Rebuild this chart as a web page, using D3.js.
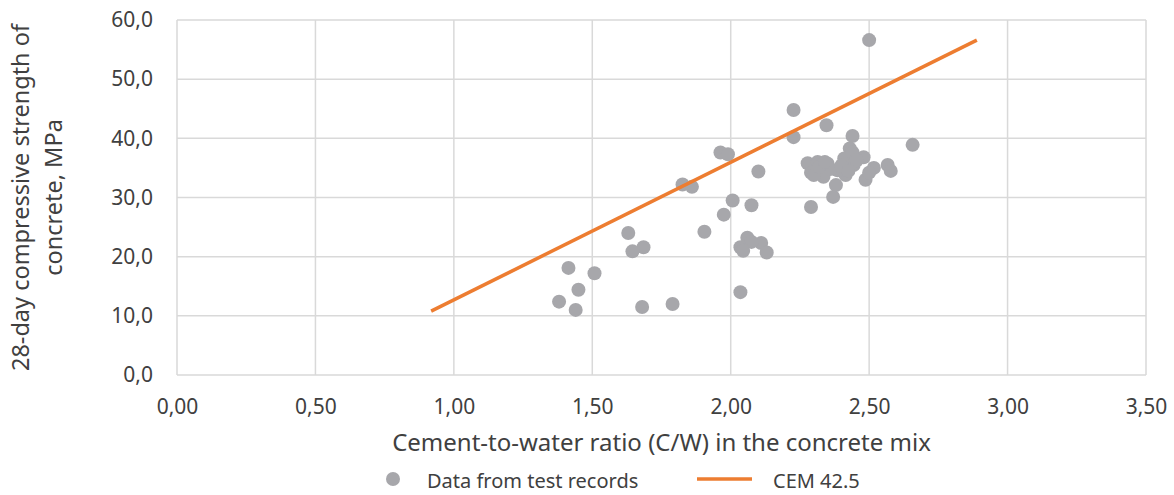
<!DOCTYPE html>
<html>
<head>
<meta charset="utf-8">
<script src="https://cdn.jsdelivr.net/npm/d3@7"></script>
<style>
  body { margin: 0; background: #fff; }
  text { font-family: "Noto Sans", sans-serif; fill: #404040; }
</style>
</head>
<body>
<svg id="chart" width="1174" height="495"></svg>
<script>
// test records: cement-to-water ratio vs 28-day strength
var cwRatio = [2.50, 2.227, 2.346, 2.227, 2.44, 2.657, 2.43, 1.963, 1.99, 2.10,
  1.826, 1.86, 2.007, 2.075, 2.29, 1.975, 1.905, 1.63, 2.06, 2.11,
  2.075, 2.035, 2.045, 2.13, 1.685, 1.645, 1.414, 1.508, 1.45, 1.38,
  1.44, 1.68, 1.79, 2.035, 2.37, 2.567, 2.578, 2.487, 2.48, 2.278,
  2.314, 2.35, 2.29, 2.335, 2.38, 2.415, 2.41, 2.444, 2.386, 2.44,
  2.517, 2.30, 2.36, 2.32, 2.40, 2.455, 2.50, 2.34, 2.425];
var strength = [56.6, 44.8, 42.2, 40.2, 40.4, 38.9, 38.3, 37.6, 37.3, 34.4,
  32.2, 31.8, 29.5, 28.7, 28.4, 27.1, 24.2, 24.0, 23.2, 22.3,
  22.5, 21.6, 21.0, 20.7, 21.6, 20.9, 18.1, 17.2, 14.4, 12.4,
  11.0, 11.5, 12.0, 14.0, 30.1, 35.5, 34.5, 33.0, 36.8, 35.8,
  36.0, 35.7, 34.2, 33.5, 32.1, 33.8, 36.6, 35.5, 34.6, 37.6,
  35.0, 33.8, 34.8, 35.2, 35.4, 36.3, 34.2, 36.0, 34.5];

// CEM 42.5 line end points
var cemX = [0.918, 2.889];
var cemY = [10.8, 56.6];

var xTicks = [0, 0.5, 1, 1.5, 2, 2.5, 3, 3.5];
var yTicks = [0, 10, 20, 30, 40, 50, 60];

var svg = d3.select("#chart");

var x = d3.scaleLinear().domain([0, 3.5]).range([177, 1146]);
var y = d3.scaleLinear().domain([0, 60]).range([375, 20]);

var fmtX = d => d.toFixed(2).replace(".", ",");
var fmtY = d => d.toFixed(1).replace(".", ",");

// gridlines
svg.append("g").selectAll("line").data(yTicks).enter().append("line")
    .attr("x1", x(0)).attr("x2", x(3.5))
    .attr("y1", d => y(d)).attr("y2", d => y(d))
    .style("stroke", "#d9d9d9").style("stroke-width", 1.5);

svg.append("g").selectAll("line").data(xTicks).enter().append("line")
    .attr("x1", d => x(d)).attr("x2", d => x(d))
    .attr("y1", y(0)).attr("y2", y(60))
    .style("stroke", "#d9d9d9").style("stroke-width", 1.5);

// axes (labels only)
var xAxis = svg.append("g")
    .attr("transform", "translate(0," + (y(0) + 21) + ")")
    .call(d3.axisBottom(x).tickValues(xTicks).tickFormat(fmtX).tickSize(0));
xAxis.select(".domain").remove();
xAxis.selectAll("text").style("font-size", "21px").attr("dy", "0.71em");

var yAxis = svg.append("g")
    .attr("transform", "translate(" + (x(0) - 21) + ",0)")
    .call(d3.axisLeft(y).tickValues(yTicks).tickFormat(fmtY).tickSize(0));
yAxis.select(".domain").remove();
yAxis.selectAll("text").style("font-size", "21px");

// points
svg.append("g").selectAll("circle")
    .data(cwRatio.map((d, i) => ({cw: d, s: strength[i]})))
    .enter().append("circle")
    .attr("cx", d => x(d.cw))
    .attr("cy", d => y(d.s))
    .attr("r", 7)
    .style("fill", "#a7a7ab");

// CEM 42.5 line
var line = d3.line().x(d => x(d[0])).y(d => y(d[1]));
svg.append("path")
    .datum(cemX.map((d, i) => [d, cemY[i]]))
    .attr("d", line)
    .style("fill", "none")
    .style("stroke", "#ed7d31")
    .style("stroke-width", 3.5);

// axis titles
svg.append("text")
    .attr("x", (x(0) + x(3.5)) / 2)
    .attr("y", 451)
    .attr("text-anchor", "middle")
    .style("font-size", "24px")
    .text("Cement-to-water ratio (C/W) in the concrete mix");

var yTitle = svg.append("text")
    .attr("transform", "translate(29," + ((y(0) + y(60)) / 2) + ") rotate(-90)")
    .attr("text-anchor", "middle")
    .style("font-size", "23.5px");
yTitle.append("tspan").attr("x", 0).attr("dy", 0).text("28-day compressive strength of");
yTitle.append("tspan").attr("x", 0).attr("dy", 33).text("concrete, MPa");

// legend
var legend = svg.append("g");
legend.append("circle").attr("cx", 393).attr("cy", 479).attr("r", 7).style("fill", "#a7a7ab");
legend.append("text").attr("x", 427).attr("y", 488).style("font-size", "20px").text("Data from test records");
legend.append("line").attr("x1", 697).attr("x2", 752).attr("y1", 479).attr("y2", 479)
    .style("stroke", "#ed7d31").style("stroke-width", 3.5);
legend.append("text").attr("x", 773).attr("y", 488).style("font-size", "20px").text("CEM 42.5");
</script>
</body>
</html>
